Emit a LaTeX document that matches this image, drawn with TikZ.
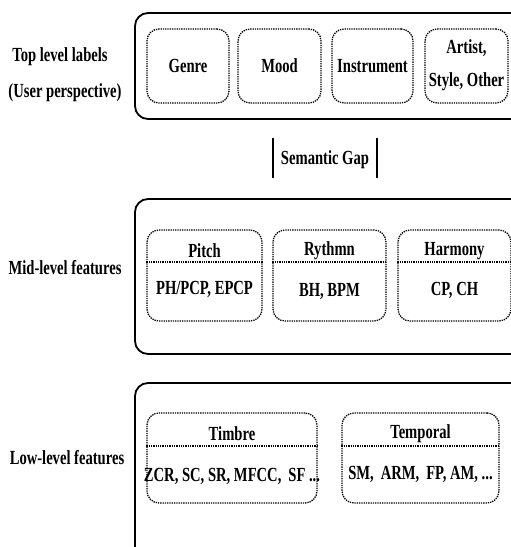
\documentclass[tikz,border=0pt]{standalone}
\usepackage{fontspec}
\setmainfont{Liberation Serif}[FakeStretch=0.73]
\usepackage{tikz}

\begin{document}
\begin{tikzpicture}[x=1pt,y=-1pt,
    font=\bfseries\fontsize{20}{23}\selectfont,
    layer/.style={draw,line width=1.8pt,rounded corners=13pt},
    group/.style={draw,densely dotted,line width=1.3pt,rounded corners=12pt,inner sep=0pt},
    divider/.style={draw,densely dotted,line width=1.3pt},
    gapbar/.style={line width=1.8pt}]
    \useasboundingbox (0,0) rectangle (511,547);
    \clip (0,0) rectangle (511,547);

    % three layers
    \draw[layer] (135,13) rectangle (540,119);
    \draw[layer] (135,199) rectangle (540,354);
    \draw[layer] (135,383) rectangle (540,580);

    % top level labels
    \node (toplabel) at (60,57) {Top level labels};
    \node (userlabel) at (65,93) {(User perspective)};
    \node[group,minimum width=82pt,minimum height=74pt] (genre) at (188,66) {Genre};
    \node[group,minimum width=83pt,minimum height=74pt] (mood) at (279.5,66) {Mood};
    \node[group,minimum width=81pt,minimum height=74pt] (instrument) at (372.5,66) {Instrument};
    \node[group,minimum width=83pt,minimum height=74pt] (artist) at (466.5,66) {};
    \node (artisttext) at (466.5,48) {Artist,};
    \node (styletext) at (466.5,82) {Style, Other};

    % semantic gap
    \node (gap) at (325,160) {Semantic Gap};
    \draw[gapbar] (273,138) -- (273,178);
    \draw[gapbar] (377,138) -- (377,178);

    % mid-level features
    \node (midlabel) at (65,268) {Mid-level features};
    \node[group,minimum width=115pt,minimum height=91pt] (pitch) at (204.5,275.5) {};
    \node (pitchtitle) at (204.5,251) {Pitch};
    \draw[divider] (pitch.west |- 0,262) -- (pitch.east |- 0,262);
    \node (pitchvals) at (204.5,289) {PH/PCP, EPCP};
    \node[group,minimum width=113pt,minimum height=91pt] (rythmn) at (329.5,275.5) {};
    \node (rythmntitle) at (329.5,251) {Rythmn};
    \draw[divider] (rythmn.west |- 0,262) -- (rythmn.east |- 0,262);
    \node (rythmnvals) at (329.5,291) {BH, BPM};
    \node[group,minimum width=113pt,minimum height=91pt] (harmony) at (454.5,275.5) {};
    \node (harmonytitle) at (454.5,251) {Harmony};
    \draw[divider] (harmony.west |- 0,262) -- (harmony.east |- 0,262);
    \node (harmonyvals) at (454.5,290) {CP, CH};

    % low-level features
    \node (lowlabel) at (67,458) {Low-level features};
    \node[group,minimum width=170pt,minimum height=90pt] (timbre) at (232,458) {};
    \node (timbretitle) at (232,434) {Timbre};
    \draw[divider] (timbre.west |- 0,446) -- (timbre.east |- 0,446);
    \node (timbrevals) at (232,476) {ZCR, SC, SR, MFCC,\, SF ...};
    \node[group,minimum width=157pt,minimum height=90pt] (temporal) at (420.5,458) {};
    \node (temporaltitle) at (420.5,434) {Temporal};
    \draw[divider] (temporal.west |- 0,446) -- (temporal.east |- 0,446);
    \node (temporalvals) at (420.5,474) {SM,\, ARM,\, FP, AM, ...};
\end{tikzpicture}
\end{document}
